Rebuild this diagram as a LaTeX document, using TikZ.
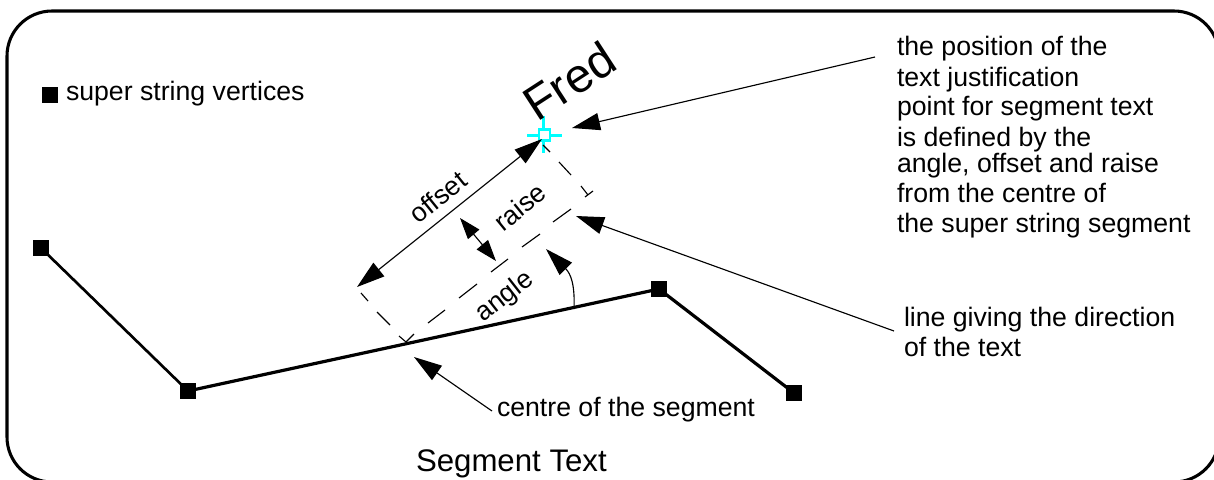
\documentclass[tikz,border=0pt]{standalone}
\usepackage{fontspec}
\setmainfont{Liberation Sans}
\usetikzlibrary{arrows.meta}
\definecolor{markcyan}{RGB}{0,255,255}
\tikzset{
  x=0.75pt,y=-0.75pt,
  frameline/.style={line width=2.3pt,rounded corners=33.75pt},
  stringline/.style={line width=2pt},
  mainline/.style={line width=2.4pt},
  thinline/.style={line width=0.85pt},
  vertexbox/.style={draw=none,fill=black,minimum size=12pt,inner sep=0pt,outer sep=0pt},
  marker/.style={draw=markcyan,line width=1.9pt,fill=white,minimum size=8.5pt,inner sep=0pt,outer sep=0pt},
  crossline/.style={draw=markcyan,line width=1.9pt},
  bigtip/.style={-{Triangle[length=21pt,width=13pt]}},
  bothtips/.style={{Triangle[length=21pt,width=13pt]}-{Triangle[length=21pt,width=13pt]}},
  smalltips/.style={{Triangle[length=16pt,width=11pt]}-{Triangle[length=16pt,width=11pt]}},
  lab/.style={anchor=base west,inner sep=0pt,outer sep=0pt,font=\fontsize{20pt}{20pt}\selectfont},
  rlab/.style={anchor=center,inner sep=0pt,outer sep=0pt,font=\fontsize{20pt}{20pt}\selectfont},
}
\begin{document}
\begin{tikzpicture}
\useasboundingbox (0,0) rectangle (1214,479);
% frame
\draw[frameline] (7,11) rectangle (1219,482);
% string
\node[vertexbox] (v1) at (41,248) {};
\node[vertexbox] (v2) at (188,391) {};
\node[vertexbox] (v3) at (659,289) {};
\node[vertexbox] (v4) at (794,393) {};
\draw[stringline] (v1.center) -- (v2.center);
\draw[mainline] (v2.center) -- (v3.center);
\draw[mainline] (v3.center) -- (v4.center);
\node[vertexbox] (legendbox) at (50,95) {};
\node[lab] (legend) at (66,100) {super string vertices};
% marker
\coordinate (mk) at (544.5,135);
\draw[crossline] (527,135.5) -- (562,135.5) (543.5,116) -- (543.5,153);
\node[marker] (just) at (mk) {};
% dashed construction lines
\coordinate (corner) at (406,342);
\coordinate (t1) at (399,336);
\coordinate (t2) at (414,334);
\draw[thinline] (t1) -- (corner) -- (t2);
\draw[thinline] (390,325) -- (377,312) (368,301) -- (361,293);
\draw[thinline] (445,310) -- (428,323) (477,284) -- (459,298) (508,259) -- (491,272) (540,234) -- (522,247) (571,209) -- (553,222);
\draw[thinline] (543,145) -- (550,152) (559,162) -- (571,175) (581,186) -- (588,195) (585,197) -- (593,191);
% arrows
\coordinate (offA) at (357,287);
\coordinate (offB) at (542,139);
\draw[thinline,bothtips] (offA) -- (offB);
\coordinate (raA) at (460,218);
\coordinate (raB) at (496,261);
\draw[thinline,smalltips] (raA) -- (raB);
\coordinate (angS) at (574,309);
\coordinate (angT) at (546,249);
\draw[thinline,bigtip] (angS) .. controls (575,285) and (571,274) .. (angT);
% labels and pointers
\node[lab] (tj1) at (897,55) {the position of the};
\node[lab] (tj2) at (897,86) {text justification};
\node[lab] (tj3) at (897,115) {point for segment text};
\node[lab] (tj4) at (897,146) {is defined by the};
\node[lab] (tj5) at (897,172) {angle, offset and raise};
\node[lab] (tj6) at (897,202) {from the centre of};
\node[lab] (tj7) at (897,232) {the super string segment};
\coordinate (p1) at (875,57);
\coordinate (p1t) at (572,128);
\draw[thinline,bigtip] (p1) -- (p1t);
\node[lab] (ld1) at (904,326) {line giving the direction};
\node[lab] (ld2) at (904,356) {of the text};
\coordinate (p2) at (894,331);
\coordinate (p2t) at (576,216);
\draw[thinline,bigtip] (p2) -- (p2t);
\node[lab] (cs) at (497,416) {centre of the segment};
\coordinate (p3) at (492,411);
\coordinate (p3t) at (414,357);
\draw[thinline,bigtip] (p3) -- (p3t);
\node[lab,font=\fontsize{23.4pt}{23.4pt}\selectfont] (st) at (416,471) {Segment Text};
\node[rlab,rotate=39] (off) at (438,197) {offset};
\node[rlab,rotate=39] (rai) at (520,207) {raise};
\node[rlab,rotate=38] (ang) at (505,297) {angle};
\node[lab,rotate=33,font=\fontsize{36pt}{36pt}\selectfont] (fred) at (537,122) {Fred};
\end{tikzpicture}
\end{document}
